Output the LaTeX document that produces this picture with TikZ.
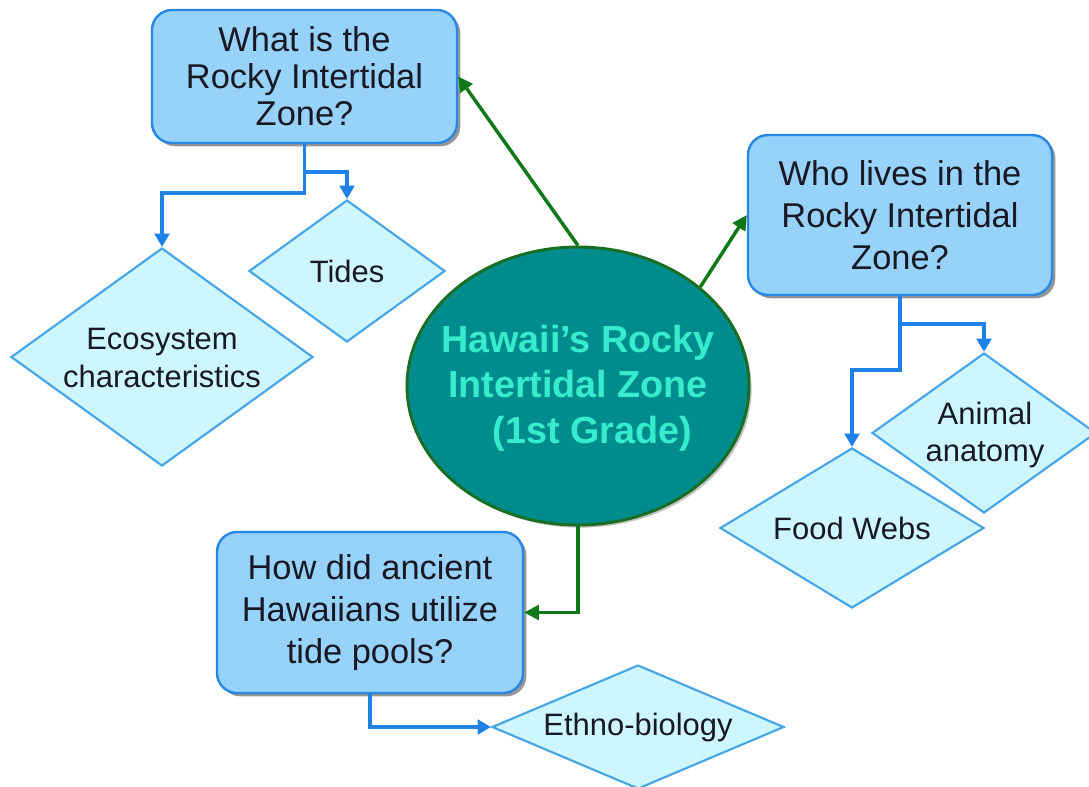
\documentclass[tikz,border=0pt]{standalone}
\usepackage{fontspec}
\setmainfont{Liberation Sans}
\usetikzlibrary{shapes.geometric,arrows.meta,shadows}
\definecolor{boxfill}{RGB}{150,210,250}
\definecolor{boxdraw}{RGB}{40,135,225}
\definecolor{diafill}{RGB}{205,246,255}
\definecolor{diadraw}{RGB}{70,165,230}
\definecolor{bline}{RGB}{30,130,230}
\definecolor{hubfill}{RGB}{0,140,140}
\definecolor{hubdraw}{RGB}{25,110,35}
\definecolor{hubtxt}{RGB}{55,235,205}
\definecolor{gline}{RGB}{15,120,25}
\definecolor{txt}{RGB}{25,25,35}
\begin{document}
\begin{tikzpicture}[x=0.75pt,y=-0.75pt,
  qbox/.style={rectangle, rounded corners=15pt, draw=boxdraw, line width=1.8pt,
    fill=boxfill, align=center, inner sep=0pt, text=txt,
    drop shadow={shadow xshift=2.5pt, shadow yshift=-2.5pt, fill=black!75, opacity=0.55}},
  qfont/.style={font=\fontsize{25.8}{31.5}\selectfont},
  dia/.style={diamond, draw=diadraw, fill=diafill, line width=1.6pt, inner sep=0pt},
  diatext/.style={align=center, text=txt, inner sep=0pt, font=\fontsize{23.2}{28}\selectfont},
  hubshape/.style={ellipse, draw=hubdraw, line width=2.2pt, fill=hubfill, inner sep=0pt,
    drop shadow={shadow xshift=2pt, shadow yshift=-2pt, fill=black!60, opacity=0.4}},
  hubtext/.style={align=center, text=hubtxt, inner sep=0pt, font=\bfseries\fontsize{28.3}{34}\selectfont},
  bconn/.style={draw=bline, line width=2.4pt, -{Triangle[length=10pt,width=11pt]}},
  gconn/.style={draw=gline, line width=2.6pt, -{Triangle[length=11pt,width=11pt]}}
]
\fill[white] (0,0) rectangle (1089,786);
\useasboundingbox (0,0) rectangle (1089,786);

% question boxes
\node[qbox, minimum width=228.75pt, minimum height=99.75pt,
      font=\fontsize{25.8}{27.75}\selectfont] (q1) at (304.5,76.5)
      {What is the\\Rocky Intertidal\\Zone?};
\node[qbox, qfont, minimum width=228pt, minimum height=120pt] (q2) at (900,215)
      {Who lives in the\\Rocky Intertidal\\Zone?};
\node[qbox, qfont, minimum width=229.5pt, minimum height=120.75pt] (q3) at (370,612.5)
      {How did ancient\\Hawaiians utilize\\tide pools?};

% hub
\node[hubshape, minimum width=256.5pt, minimum height=208.5pt] (hub) at (578,386) {};
\node[hubtext] (hubt) at (578,388) {Hawaii’s Rocky\\Intertidal Zone\\\hspace*{0.75em}(1st Grade)};

% diamonds
\node[dia, minimum width=147pt, minimum height=106.5pt] (tides) at (347,271) {};
\node[diatext] (tidest) at (tides) {Tides};
\node[dia, minimum width=226.5pt, minimum height=163.5pt] (eco) at (162,357) {};
\node[diatext] (ecot) at (162,358) {Ecosystem\\characteristics};
\node[dia, minimum width=168pt, minimum height=120pt] (anat) at (984,433) {};
\node[diatext] (anatt) at (985,435) {Animal\\anatomy};
\node[dia, minimum width=198pt, minimum height=120pt] (food) at (852,528) {};
\node[diatext] (foodt) at (food) {Food Webs};
\node[dia, minimum width=219pt, minimum height=93pt] (ethno) at (638,727) {};
\node[diatext] (ethnot) at (ethno) {Ethno-biology};

% junctions
\coordinate (j1) at (304.5,172);
\coordinate (j2) at (304.5,193);
\coordinate (j3) at (900,324);
\coordinate (j4) at (900,370);

% blue connectors
\draw[bconn] (q1.south) -- (j1) -| (tides.north);
\draw[bconn] (q1.south) -- (j2) -| (eco.north);
\draw[bconn] (q2.south) -- (j3) -| (anat.north);
\draw[bconn] (q2.south) -- (j4) -| (food.north);
\draw[bconn] (q3.south) |- (ethno.west);

% green connectors
\draw[gconn] (hub.north) -- (q1.east);
\draw[gconn] (hub.39) -- (q2.west);
\draw[gconn] (hub.south) |- (q3.east);
\end{tikzpicture}
\end{document}
